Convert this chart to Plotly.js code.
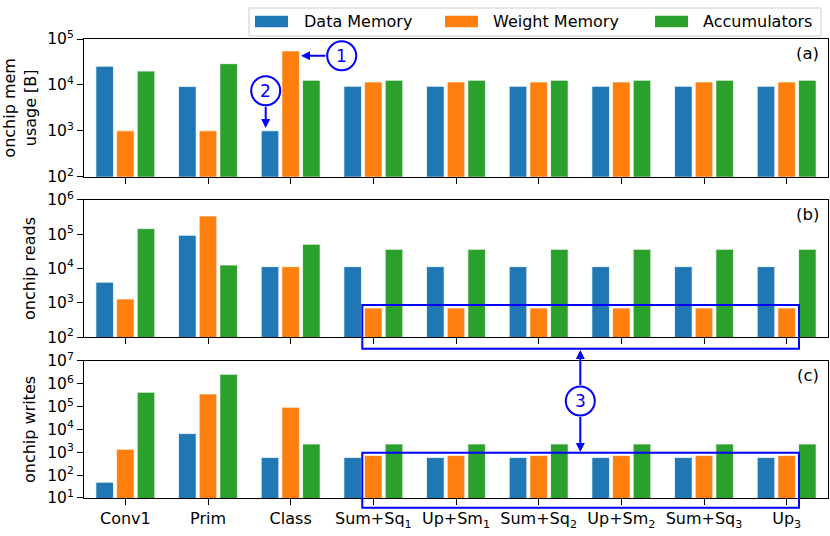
<!DOCTYPE html>
<html>
<head>
<meta charset="utf-8">
<script src="https://cdn.plot.ly/plotly-3.0.1.min.js"></script>
<style>html,body{margin:0;padding:0;background:#fff;}#chart{width:830px;height:536px;}</style>
</head>
<body>
<div id="chart"></div>
<script>
// ---- data ----
const categories = ["Conv1","Prim","Class","Sum+Sq<sub>1</sub>","Up+Sm<sub>1</sub>","Sum+Sq<sub>2</sub>","Up+Sm<sub>2</sub>","Sum+Sq<sub>3</sub>","Up<sub>3</sub>"];
const seriesNames = ["Data Memory","Weight Memory","Accumulators"];
const seriesColors = ["#1f77b4","#ff7f0e","#2ca02c"];

const memData    = [25500, 9200, 1000, 9300, 9300, 9300, 9300, 9300, 9300];
const memWeight  = [1000, 1000, 55000, 11600, 11600, 11600, 11600, 11600, 11600];
const memAcc     = [20000, 29000, 12600, 12600, 12600, 12600, 12600, 12600, 12600];

const readsData   = [4000, 92000, 11300, 11300, 11300, 11300, 11300, 11300, 11300];
const readsWeight = [1300, 336000, 11300, 710, 710, 710, 710, 710, 710];
const readsAcc    = [144000, 12600, 50500, 36000, 36000, 36000, 36000, 36000, 36000];

const writesData   = [49, 6600, 590, 590, 590, 590, 590, 590, 590];
const writesWeight = [1360, 359000, 94000, 720, 720, 720, 720, 720, 720];
const writesAcc    = [427000, 2620000, 2320, 2320, 2320, 2320, 2320, 2320, 2320];

const panelLabels = ["(a)","(b)","(c)"];
const yTitles = ["onchip mem<br>usage [B]","onchip reads","onchip writes"];
const yDecades = [[2,5],[2,6],[1,7]];

// ---- build ----
const FONT = "DejaVu Sans";
const panels = [
  {vals:[memData,memWeight,memAcc], xa:"x3", ya:"y3"},
  {vals:[readsData,readsWeight,readsAcc], xa:"x2", ya:"y2"},
  {vals:[writesData,writesWeight,writesAcc], xa:"x", ya:"y"}
];
const traces = [];
panels.forEach((p,pi)=>{
  p.vals.forEach((v,si)=>{
    traces.push({
      type:"bar", x:categories, y:v, name:seriesNames[si],
      xaxis:p.xa, yaxis:p.ya, showlegend:false,
      marker:{color:seriesColors[si], line:{color:"rgba(255,255,255,0.7)", width:1}},
      hoverinfo:"skip"
    });
  });
});

function ticks(r){
  const tv=[],tt=[];
  for(let e=r[0];e<=r[1];e++){tv.push(Math.pow(10,e));tt.push("10<sup>"+e+"</sup>");}
  return {tickvals:tv, ticktext:tt};
}
function yax(idx, domain){
  const r=yDecades[idx], t=ticks(r);
  return {
    type:"log", range:r, domain:domain, tickmode:"array", tickvals:t.tickvals, ticktext:t.ticktext,
    showline:true, linecolor:"#000", linewidth:1, mirror:true, ticks:"outside", ticklen:6, tickcolor:"#000",
    showgrid:false, zeroline:false,
    tickfont:{family:FONT,size:15.5,color:"#000"},
    title:{text:yTitles[idx], font:{family:FONT,size:16,color:"#000"}, standoff:7}
  };
}
function xax(anchor, showLabels){
  return {
    anchor:anchor, range:[-0.5,8.5], showline:true, linecolor:"#000", linewidth:1, mirror:true,
    ticks:"outside", ticklen:6, tickcolor:"#000", showgrid:false, zeroline:false,
    showticklabels:showLabels, tickangle:0,
    tickfont:{family:FONT,size:16,color:"#000"}
  };
}

const W=830,H=536,ML=84,MR=2,MT=39,MB=38;
const PW=W-ML-MR, PH=H-MT-MB;
const px=(x)=>(x-ML)/PW, py=(y)=>(H-MB-y)/PH;
const BLUE="#0000ff";

const shapes=[], annotations=[];
// panel labels
[[53.5,panelLabels[0]],[214,panelLabels[1]],[375,panelLabels[2]]].forEach(([yy,t])=>{
  annotations.push({xref:"paper",yref:"paper",x:px(821),y:py(yy),xanchor:"right",yanchor:"middle",
    text:t,showarrow:false,font:{family:FONT,size:16.5,color:"#000"}});
});
// legend (manual)
shapes.push({type:"rect",xref:"paper",yref:"paper",x0:px(249),x1:px(821),y0:py(36),y1:py(8),
  line:{color:"#cccccc",width:1},fillcolor:"rgba(255,255,255,0.85)",layer:"above"});
const legX=[[255,303],[445,492],[655,702]];
legX.forEach(([sx,tx],i)=>{
  shapes.push({type:"rect",xref:"paper",yref:"paper",x0:px(sx),x1:px(sx+33),y0:py(27.3),y1:py(15.7),
    line:{width:0},fillcolor:seriesColors[i],layer:"above"});
  annotations.push({xref:"paper",yref:"paper",x:px(tx-1),y:py(21.8),xanchor:"left",yanchor:"middle",
    text:seriesNames[i],showarrow:false,font:{family:FONT,size:16,color:"#000"}});
});
// circles with numbers
[[341.7,55.7,"1"],[265.7,90.7,"2"],[580.3,401,"3"]].forEach(([cx,cy,t])=>{
  shapes.push({type:"circle",xref:"paper",yref:"paper",xsizemode:"pixel",ysizemode:"pixel",
    xanchor:px(cx),yanchor:py(cy),x0:-14.5,x1:14.5,y0:-14.5,y1:14.5,
    line:{color:BLUE,width:2},fillcolor:"rgba(0,0,0,0)",layer:"above"});
  annotations.push({xref:"paper",yref:"paper",x:px(cx),y:py(cy),xanchor:"center",yanchor:"middle",
    text:t,showarrow:false,font:{family:FONT,size:17,color:BLUE}});
});
// arrows
function arrow(hx,hy,tx,ty){
  annotations.push({xref:"paper",yref:"paper",x:px(hx),y:py(hy),ax:tx-hx,ay:ty-hy,text:"",
    showarrow:true,arrowhead:2,arrowsize:0.9,arrowwidth:2,arrowcolor:BLUE,standoff:0,startstandoff:0});
}
arrow(301,55.7,327,55.7);
arrow(265.7,128,265.7,105.2);
arrow(580.3,350,580.3,386.5);
arrow(580.3,452,580.3,415.5);
// highlight rectangles
shapes.push({type:"rect",xref:"paper",yref:"paper",x0:px(362.3),x1:px(799),y0:py(348.7),y1:py(305),
  line:{color:BLUE,width:2},fillcolor:"rgba(0,0,0,0)",layer:"above"});
shapes.push({type:"rect",xref:"paper",yref:"paper",x0:px(362.3),x1:px(799),y0:py(507.7),y1:py(452.7),
  line:{color:BLUE,width:2},fillcolor:"rgba(0,0,0,0)",layer:"above"});

const layout = {
  width:W,height:H,margin:{l:ML,r:MR,t:MT,b:MB,pad:0},
  paper_bgcolor:"#fff",plot_bgcolor:"#fff",
  barmode:"group",bargap:0.25,bargroupgap:0.15,
  showlegend:false,
  font:{family:FONT,color:"#000"},
  xaxis:xax("y",true),
  xaxis2:Object.assign(xax("y2",false),{matches:"x"}),
  xaxis3:Object.assign(xax("y3",false),{matches:"x"}),
  yaxis:yax(2,[0,0.2985]),
  yaxis2:yax(1,[0.35,0.65]),
  yaxis3:yax(0,[0.7,1]),
  shapes:shapes, annotations:annotations
};
Plotly.newPlot("chart",traces,layout,{staticPlot:true,displayModeBar:false});
</script>
</body>
</html>
